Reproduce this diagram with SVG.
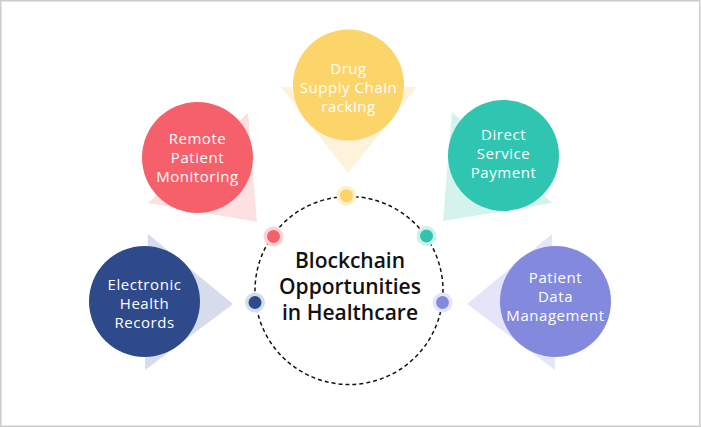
<svg xmlns="http://www.w3.org/2000/svg" width="701" height="428" viewBox="0 0 701 428">
<style>
.lbl{font-family:"Open Sans","Liberation Sans",sans-serif;font-size:15px;letter-spacing:0.55px;fill:#ffffff;text-anchor:middle}
.ctr{font-family:"Open Sans","Liberation Sans",sans-serif;font-size:21px;font-weight:600;fill:#111111;text-anchor:middle}
</style>
<rect x="0.75" y="0.75" width="699" height="425.5" fill="#ffffff" stroke="#cccccc" stroke-width="1.5"/>
<g id="connectors">
<circle cx="349" cy="290.5" r="94" fill="none" stroke="#111111" stroke-width="1.5" stroke-dasharray="4 3"/>
</g>
<g id="node-drug">
<polygon points="281,87 417,87 348,173" fill="#fdf3da"/>
<circle cx="348.5" cy="85" r="55.5" fill="#fbd46a"/>
<circle cx="346.5" cy="195.7" r="10" fill="#fdf0cf"/>
<circle cx="346.5" cy="195.7" r="6.5" fill="#fbd46a"/>
<text class="lbl" x="348.5" y="74">Drug</text>
<text class="lbl" x="348.5" y="93">Supply Chain</text>
<text class="lbl" x="348.5" y="112">racking</text>
</g>
<g id="node-remote">
<polygon points="248,113 148,203 257,222" fill="#fde0e1"/>
<circle cx="197.5" cy="157.5" r="55.5" fill="#f6606b"/>
<circle cx="273.5" cy="236.5" r="10" fill="#fdd3d6"/>
<circle cx="273.5" cy="236.5" r="6.5" fill="#f6606b"/>
<text class="lbl" x="197.5" y="144">Remote</text>
<text class="lbl" x="197.5" y="163">Patient</text>
<text class="lbl" x="197.5" y="182">Monitoring</text>
</g>
<g id="node-direct">
<polygon points="452,112 552,203 443,221" fill="#d5f3ed"/>
<circle cx="503.5" cy="155.5" r="55.5" fill="#30c5b1"/>
<circle cx="426.5" cy="236" r="10" fill="#cdf1ea"/>
<circle cx="426.5" cy="236" r="6.5" fill="#30c5b1"/>
<text class="lbl" x="503.5" y="139.5">Direct</text>
<text class="lbl" x="503.5" y="158.5">Service</text>
<text class="lbl" x="503.5" y="177.5">Payment</text>
</g>
<g id="node-ehr">
<polygon points="148,234 233,304 145,370" fill="#d6dcec"/>
<circle cx="144.5" cy="301.5" r="55.5" fill="#2e4a8b"/>
<circle cx="255" cy="302.5" r="10" fill="#d6dcec"/>
<circle cx="255" cy="302.5" r="6.5" fill="#2e4a8b"/>
<text class="lbl" x="144.5" y="290">Electronic</text>
<text class="lbl" x="144.5" y="309">Health</text>
<text class="lbl" x="144.5" y="328">Records</text>
</g>
<g id="node-pdm">
<polygon points="552,234 467,304 555,370" fill="#e4e5f8"/>
<circle cx="555.5" cy="301.5" r="55.5" fill="#8389dc"/>
<circle cx="442.5" cy="302.5" r="10" fill="#e4e5f8"/>
<circle cx="442.5" cy="302.5" r="6.5" fill="#8389dc"/>
<text class="lbl" x="555.5" y="283">Patient</text>
<text class="lbl" x="555.5" y="302">Data</text>
<text class="lbl" x="555.5" y="321">Management</text>
</g>
<g id="node-center">
<text class="ctr" x="350" y="268">Blockchain</text>
<text class="ctr" x="350" y="294">Opportunities</text>
<text class="ctr" x="350" y="320">in Healthcare</text>
</g>
</svg>
